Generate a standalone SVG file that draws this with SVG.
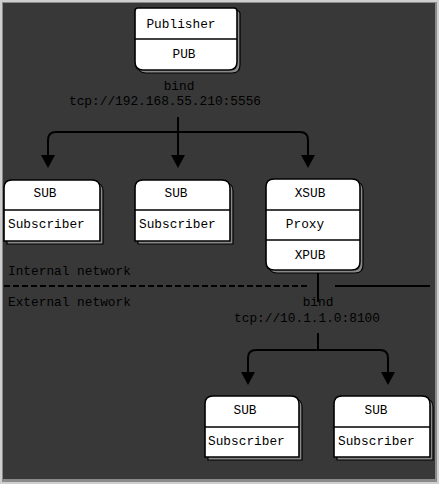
<svg xmlns="http://www.w3.org/2000/svg" width="439" height="484" viewBox="0 0 439 484">
<defs>
<style>
.box{fill:#fff;stroke:#000;stroke-width:1.6}
.sh{fill:#8a8a8a;stroke:#000;stroke-width:1.2}
.div{stroke:#000;stroke-width:1.6}
.t{font-family:"Liberation Mono","DejaVu Sans Mono",monospace;font-size:12.8px;fill:#000}
.c{stroke:#000;stroke-width:2;fill:none}
</style>
<marker id="ah" markerUnits="userSpaceOnUse" markerWidth="14" markerHeight="14" viewBox="0 0 14 14" refX="7" refY="13" orient="auto-start-reverse">
<path d="M0,0 L14,0 L7,13 Z" fill="#000" transform="rotate(-90 7 7)"/>
</marker>
</defs>
<rect x="0" y="0" width="439" height="484" fill="#cfcfcf"/>
<rect x="2" y="2" width="435" height="480" fill="#8a8a8a"/>
<rect x="3" y="3" width="432" height="476" fill="#383838"/>

<g id="connectors">
<path class="c" d="M178,117 V156"/>
<path class="c" d="M48,156 V140 Q48,132 56,132 H300 Q308,132 308,140 V156"/>
<polygon points="41,155 55,155 48,168"/>
<polygon points="171,155 185,155 178,168"/>
<polygon points="301,155 315,155 308,168"/>
<path class="c" d="M318,272 V302"/>
<path class="c" d="M318,333 V350"/>
<path class="c" d="M248,373 V358 Q248,350 256,350 H380 Q388,350 388,358 V373"/>
<polygon points="241,372 255,372 248,385"/>
<polygon points="381,372 395,372 388,385"/>
<path d="M4,286 H310" stroke="#000" stroke-width="2" stroke-dasharray="6,3" fill="none"/>
<path d="M335,286 H430" stroke="#000" stroke-width="2" fill="none"/>
</g>

<g id="publisher">
<path class="sh" d="M141,11 H238 Q240,11 240,14 V65 Q240,73 232,73 H146 Q138,73 138,65 V14 Q138,11 141,11 Z"/>
<path class="box" d="M138,8 H234 Q237,8 237,11 V62 Q237,70 229,70 H143 Q135,70 135,62 V11 Q135,8 138,8 Z"/>
<line class="div" x1="135" y1="39" x2="237" y2="39"/>
<text class="t" x="181" y="28" text-anchor="middle">Publisher</text>
<text class="t" x="184" y="58" text-anchor="middle">PUB</text>
</g>

<text class="t" x="179" y="90" text-anchor="middle">bind</text>
<text class="t" x="165" y="105" text-anchor="middle">tcp://192.168.55.210:5556</text>

<g id="sub1">
<path class="sh" d="M7,244 V191 Q7,183 15,183 H95 Q103,183 103,191 V244 Z"/>
<path class="box" d="M4,241 V188 Q4,180 12,180 H92 Q100,180 100,188 V241 Z"/>
<line class="div" x1="4" y1="210" x2="100" y2="210"/>
<text class="t" x="45" y="197" text-anchor="middle">SUB</text>
<text class="t" x="8" y="228">Subscriber</text>
</g>

<g id="sub2">
<path class="sh" d="M138,244 V191 Q138,183 146,183 H225 Q233,183 233,191 V244 Z"/>
<path class="box" d="M135,241 V188 Q135,180 143,180 H222 Q230,180 230,188 V241 Z"/>
<line class="div" x1="135" y1="210" x2="230" y2="210"/>
<text class="t" x="176" y="197" text-anchor="middle">SUB</text>
<text class="t" x="139" y="228">Subscriber</text>
</g>

<g id="proxy">
<path class="sh" d="M277,182 H355 Q363,182 363,190 V265 Q363,273 355,273 H277 Q269,273 269,265 V190 Q269,182 277,182 Z"/>
<path class="box" d="M274,179 H352 Q360,179 360,187 V262 Q360,270 352,270 H274 Q266,270 266,262 V187 Q266,179 274,179 Z"/>
<line class="div" x1="266" y1="210" x2="360" y2="210"/>
<line class="div" x1="266" y1="240" x2="360" y2="240"/>
<text class="t" x="310" y="197" text-anchor="middle">XSUB</text>
<text class="t" x="305" y="228" text-anchor="middle">Proxy</text>
<text class="t" x="310" y="259" text-anchor="middle">XPUB</text>
</g>

<text class="t" x="8" y="275">Internal network</text>
<text class="t" x="8" y="306">External network</text>
<text class="t" x="318" y="306" text-anchor="middle">bind</text>
<text class="t" x="307" y="322" text-anchor="middle">tcp://10.1.1.0:8100</text>

<g id="sub3">
<path class="sh" d="M208,460 V407 Q208,399 216,399 H294 Q302,399 302,407 V460 Z"/>
<path class="box" d="M205,457 V404 Q205,396 213,396 H291 Q299,396 299,404 V457 Z"/>
<line class="div" x1="205" y1="427" x2="299" y2="427"/>
<text class="t" x="245" y="414" text-anchor="middle">SUB</text>
<text class="t" x="208" y="445">Subscriber</text>
</g>

<g id="sub4">
<path class="sh" d="M337,460 V407 Q337,399 345,399 H425 Q433,399 433,407 V460 Z"/>
<path class="box" d="M334,457 V404 Q334,396 342,396 H422 Q430,396 430,404 V457 Z"/>
<line class="div" x1="334" y1="427" x2="430" y2="427"/>
<text class="t" x="376" y="414" text-anchor="middle">SUB</text>
<text class="t" x="338" y="445">Subscriber</text>
</g>
</svg>
